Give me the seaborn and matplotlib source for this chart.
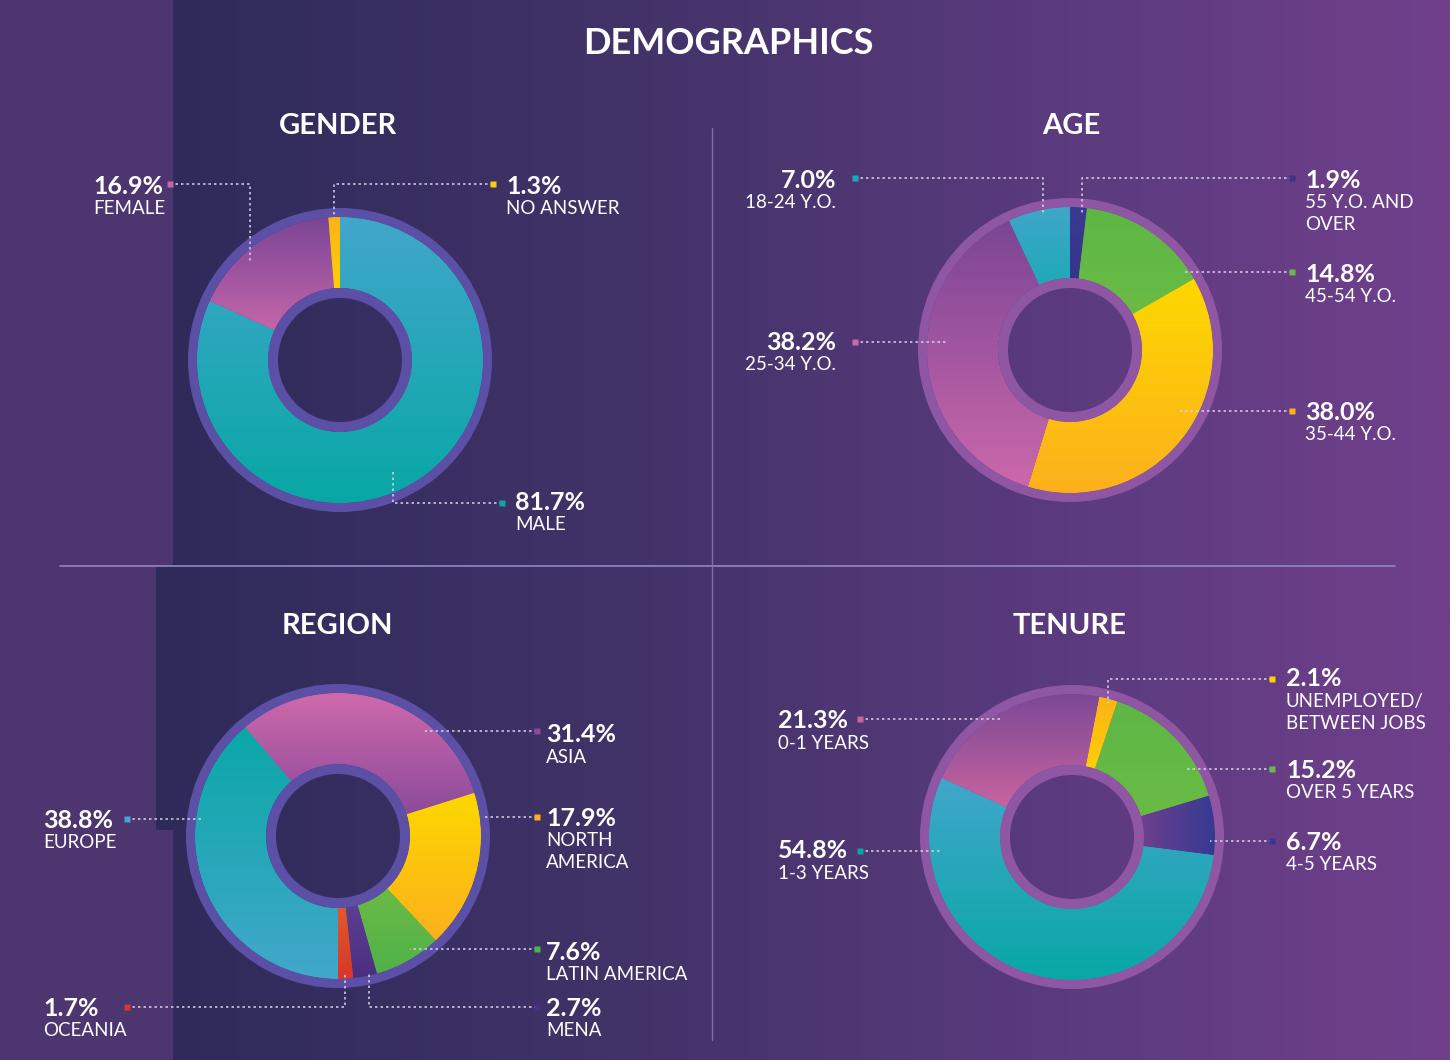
import matplotlib
matplotlib.use("Agg")
import matplotlib.pyplot as plt
import numpy as np
import seaborn as sns
from matplotlib.colors import LinearSegmentedColormap
from matplotlib.patches import Rectangle, Wedge

# ---- data -------------------------------------------------------------
gender_labels = ["MALE", "FEMALE", "NO ANSWER"]
gender_values = [81.7, 16.9, 1.3]

age_labels = ["55 Y.O. AND\nOVER", "45-54 Y.O.", "35-44 Y.O.", "25-34 Y.O.", "18-24 Y.O."]
age_values = [1.9, 14.8, 38.0, 38.2, 7.0]

region_labels = ["EUROPE", "ASIA", "NORTH\nAMERICA", "LATIN AMERICA", "MENA", "OCEANIA"]
region_values = [38.8, 31.4, 17.9, 7.6, 2.7, 1.7]

tenure_labels = ["UNEMPLOYED/\nBETWEEN JOBS", "OVER 5 YEARS", "4-5 YEARS", "1-3 YEARS", "0-1 YEARS"]
tenure_values = [2.1, 15.2, 6.7, 54.8, 21.3]

# ---- styling ----------------------------------------------------------
W, H = 1450, 1060
R_RING, R_OUT, R_IN, R_HOLE = 152, 143, 72, 62

TEAL = ("#41a6cb", "#08a8a5")
TEAL_REV = ("#0aa8a8", "#42a7ca")
PINK = ("#7a4595", "#cc68ab")
PINK_REV = ("#cf6aab", "#8c4a9c")
YELLOW = ("#fdd800", "#fcb01c")
ORANGE = ("#fbb218", "#ffcf05")
GREEN = ("#5db646", "#6abb45")
NAVY = ("#3a3a90", "#35358a")

# (centre in px, start angle, ring colour, gradient per slice)
charts = {
    "GENDER": dict(center=(340, 360), start=90, ring="#5b4fa6",
                   grads=[TEAL, ("#7a4595", "#c466aa"), ORANGE]),
    "AGE": dict(center=(1070, 350), start=90, ring="#8f56a3",
                grads=[NAVY, GREEN, YELLOW, PINK, ("#40a6c9", "#1fa9b8")]),
    "REGION": dict(center=(338, 836), start=270, ring="#5b4fa6",
                   grads=[TEAL_REV, PINK_REV, YELLOW, ("#6cba45", "#4fb24a"),
                          ("#5c3f92", "#4a2f80"), ("#e05a2a", "#d8362a")]),
    "TENURE": dict(center=(1072, 837), start=79, ring="#8f56a3",
                   grads=[ORANGE, GREEN, ("h", "#6e3f8e", "#343a92"), TEAL, ("#7b4896", "#c8649f")]),
}

# callouts: text x, text y, alignment, then leader polyline from marker to slice
callouts = {
    "GENDER": [
        (515, 500, "left", [(502, 503), (393, 503), (393, 472)]),
        (93, 184, "left", [(170, 184), (250, 184), (250, 262)]),
        (506, 184, "left", [(493, 184), (334, 184), (334, 218)]),
    ],
    "AGE": [
        (1305, 178, "left", [(1292, 178), (1082, 178), (1082, 215)]),
        (1305, 272, "left", [(1292, 272), (1185, 272)]),
        (1305, 410, "left", [(1292, 411), (1180, 411)]),
        (836, 340, "right", [(855, 342), (948, 342)]),
        (836, 178, "right", [(855, 178), (1043, 178), (1043, 215)]),
    ],
    "REGION": [
        (43, 818, "left", [(127, 819), (203, 819)]),
        (546, 733, "left", [(537, 731), (425, 731)]),
        (546, 816, "left", [(537, 817), (485, 817)]),
        (546, 950, "left", [(537, 949), (410, 949)]),
        (546, 1006, "left", [(537, 1007), (369, 1007), (369, 973)]),
        (43, 1006, "left", [(127, 1007), (345, 1007), (345, 973)]),
    ],
    "TENURE": [
        (1286, 677, "left", [(1272, 679), (1108, 679), (1108, 703)]),
        (1286, 768, "left", [(1272, 769), (1185, 769)]),
        (1286, 840, "left", [(1272, 841), (1210, 841)]),
        (778, 849, "left", [(860, 851), (940, 851)]),
        (778, 719, "left", [(860, 719), (1000, 719)]),
    ],
}
title_pos = {"GENDER": (338, 126), "AGE": (1071, 126), "REGION": (337, 626), "TENURE": (1070, 626)}
chart_data = {
    "GENDER": (gender_values, gender_labels),
    "AGE": (age_values, age_labels),
    "REGION": (region_values, region_labels),
    "TENURE": (tenure_values, tenure_labels),
}

sns.set_theme(style="white")
plt.rcParams["font.family"] = ["Lato", "DejaVu Sans"]


def py(y):
    """Pixel row (top-down) to axis y (bottom-up)."""
    return H - y


fig = plt.figure(figsize=(14.5, 10.6), dpi=100)
ax = fig.add_axes([0, 0, 1, 1])

# background: horizontal navy -> purple gradient plus left strips
bg_cmap = LinearSegmentedColormap.from_list(
    "bg", [(0.0, "#2e2b5a"), (0.12, "#2e2b5a"), (0.45, "#433369"),
           (0.7, "#583a7c"), (1.0, "#70408c")])
ax.imshow(np.linspace(0, 1, 512).reshape(1, -1), cmap=bg_cmap, extent=[0, W, 0, H],
          aspect="auto", zorder=0, interpolation="bicubic")
strip = "#4d3570"
ax.add_patch(Rectangle((0, py(566)), 173, 566, color=strip, zorder=1, lw=0))
ax.add_patch(Rectangle((0, py(830)), 156, 830 - 566, color=strip, zorder=1, lw=0))
ax.add_patch(Rectangle((0, 0), 173, py(830), color=strip, zorder=1, lw=0))

# dividers
ax.plot([60, 1395], [py(566), py(566)], color="#9486c6", lw=1.2, zorder=2)
ax.plot([712, 712], [py(128), py(1040)], color="#8c6aaa", lw=1.0, zorder=2)

ax.text(728, py(44), "DEMOGRAPHICS", color="white", fontsize=26, fontweight="bold",
        ha="center", va="center", zorder=6)

for name, spec in charts.items():
    values, labels = chart_data[name]
    cx, cy = spec["center"]
    cy = py(cy)
    mids = []
    for g in spec["grads"]:
        mids.append(g[1] if g[0] == "h" else g[0])
    wedges, _ = ax.pie(values, colors=mids, startangle=spec["start"], counterclock=False,
                       center=(cx, cy), radius=R_OUT, frame=True,
                       wedgeprops=dict(width=R_OUT - R_IN, linewidth=0))
    for w in wedges:
        w.set_zorder(3)

    # gradient fill clipped to each slice
    for w, g in zip(wedges, spec["grads"]):
        ext = w.get_path().get_extents()
        if g[0] == "h":
            cmap = LinearSegmentedColormap.from_list("g", [g[1], g[2]])
            arr = np.linspace(0, 1, 256).reshape(1, -1)
        else:
            cmap = LinearSegmentedColormap.from_list("g", [g[1], g[0]])
            arr = np.linspace(0, 1, 256).reshape(-1, 1)
        im = ax.imshow(arr, cmap=cmap, extent=[ext.x0, ext.x1, ext.y0, ext.y1],
                       origin="lower", aspect="auto", zorder=3.5, interpolation="bicubic")
        im.set_clip_path(w)

    ax.add_patch(Wedge((cx, cy), R_RING, 0, 360, width=R_RING - R_OUT,
                       color=spec["ring"], lw=0, zorder=4))
    ax.add_patch(Wedge((cx, cy), R_IN, 0, 360, width=R_IN - R_HOLE,
                       color=spec["ring"], lw=0, zorder=4))

    tx, ty = title_pos[name]
    ax.text(tx, py(ty), name, color="white", fontsize=21, fontweight="bold",
            ha="center", va="center", zorder=6)

    # leaders and labels
    for v, lab, g, (lx, ly, ha, pts) in zip(values, labels, spec["grads"], callouts[name]):
        xs = [p[0] for p in pts]
        ys = [py(p[1]) for p in pts]
        ax.plot(xs, ys, color="#ddd3ec", lw=1.1, ls=(0, (1.6, 2)), zorder=5,
                solid_capstyle="butt")
        mcol = g[2] if g[0] == "h" else g[1]
        ax.plot(xs[0], ys[0], marker="s", ms=4.5, color=mcol, mec="none", zorder=6)
        ax.text(lx, py(ly + 2), f"{v:.1f}%", color="white", fontsize=18, fontweight="bold",
                ha=ha, va="center", zorder=6)
        ax.text(lx, py(ly + 16), lab, color="white", fontsize=13.5, ha=ha, va="top",
                linespacing=1.35, multialignment=ha, zorder=6)

ax.set_xlim(0, W)
ax.set_ylim(0, H)
ax.set_aspect("auto")
ax.set_axis_off()

fig.savefig("out.png", dpi=100)
plt.close(fig)
